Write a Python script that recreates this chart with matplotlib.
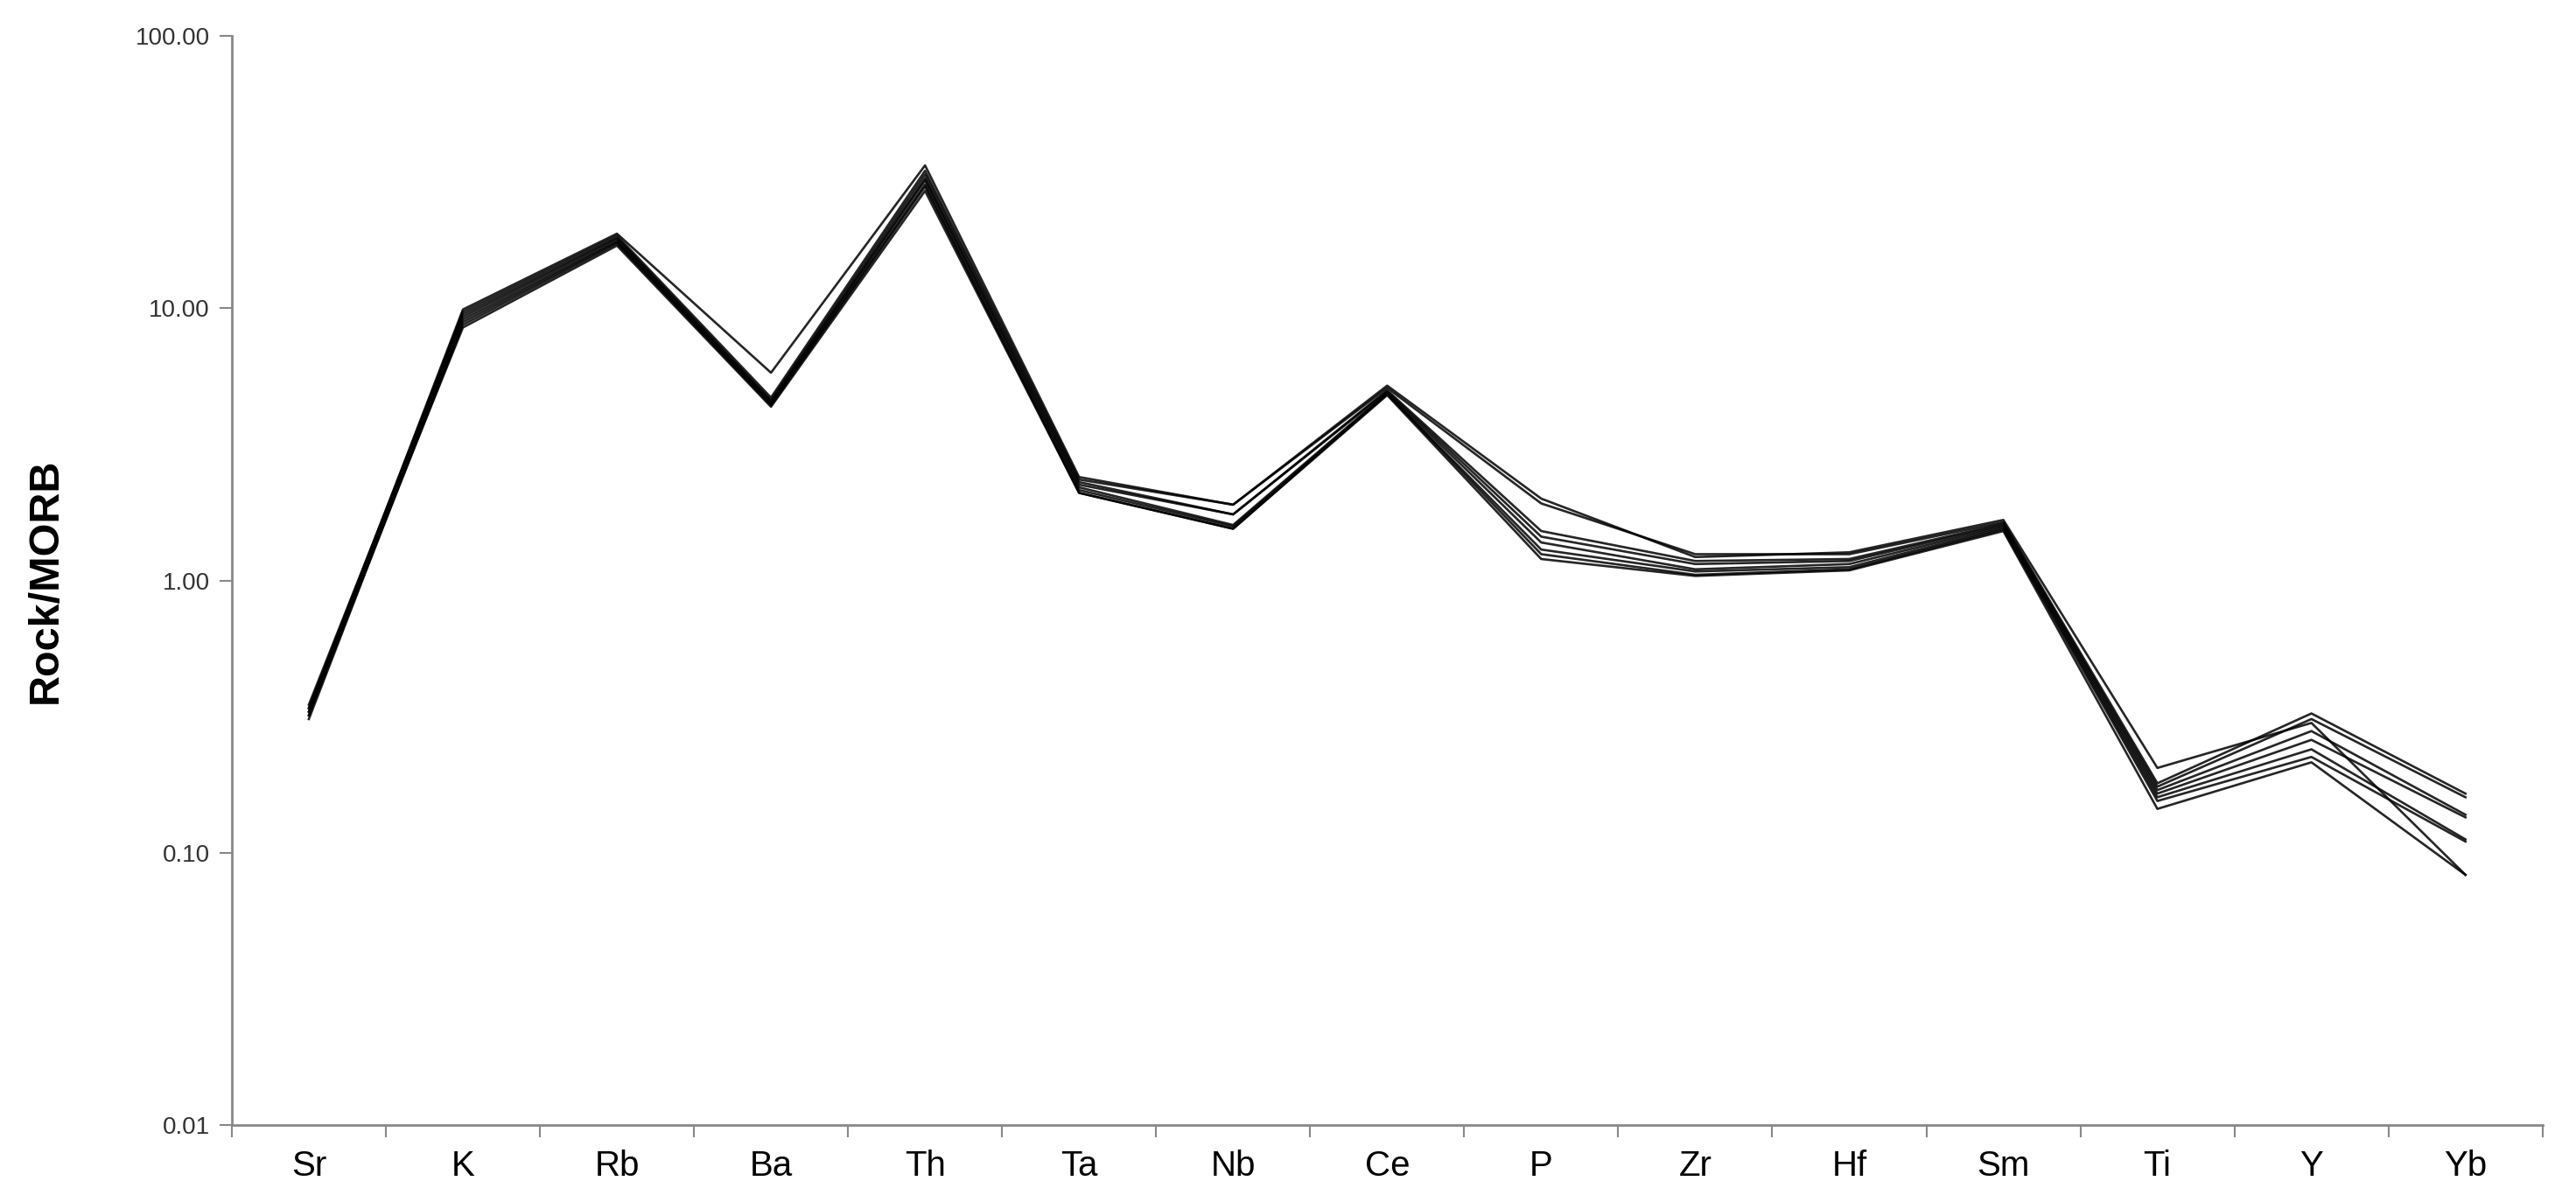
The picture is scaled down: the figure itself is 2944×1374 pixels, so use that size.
import matplotlib
matplotlib.use("Agg")
import matplotlib.pyplot as plt
from matplotlib.ticker import FixedLocator, FuncFormatter

elements = ["Sr", "K", "Rb", "Ba", "Th", "Ta", "Nb", "Ce", "P", "Zr", "Hf", "Sm", "Ti", "Y", "Yb"]

# Rock/MORB values, one list per sample
s1 = [0.33, 9.9, 18.8, 5.8, 33.5, 2.40, 1.90, 5.20, 2.00, 1.22, 1.27, 1.67, 0.205, 0.300, 0.083]
s2 = [0.34, 9.7, 18.5, 4.7, 32.0, 2.35, 1.90, 5.10, 1.92, 1.25, 1.25, 1.64, 0.180, 0.325, 0.165]
s3 = [0.32, 9.5, 18.2, 4.6, 31.0, 2.30, 1.75, 5.00, 1.52, 1.18, 1.20, 1.62, 0.175, 0.310, 0.160]
s4 = [0.35, 9.3, 18.0, 4.55, 30.0, 2.25, 1.75, 4.95, 1.45, 1.15, 1.18, 1.60, 0.170, 0.280, 0.138]
s5 = [0.31, 9.1, 17.7, 4.5, 29.5, 2.20, 1.60, 4.90, 1.38, 1.10, 1.15, 1.58, 0.165, 0.260, 0.135]
s6 = [0.33, 8.9, 17.5, 4.45, 28.5, 2.15, 1.58, 4.85, 1.30, 1.08, 1.12, 1.56, 0.160, 0.240, 0.112]
s7 = [0.32, 8.7, 17.3, 4.4, 28.0, 2.10, 1.55, 4.85, 1.25, 1.05, 1.10, 1.54, 0.155, 0.225, 0.110]
s8 = [0.34, 8.5, 17.0, 4.35, 27.0, 2.10, 1.55, 4.80, 1.20, 1.04, 1.09, 1.52, 0.145, 0.215, 0.083]
samples = [s1, s2, s3, s4, s5, s6, s7, s8]

yticks = [0.01, 0.1, 1, 10, 100]

plt.rcParams['font.family'] = ['Liberation Sans', 'DejaVu Sans']

fig = plt.figure(figsize=(29.44, 13.74), dpi=100)
ax = fig.add_axes([0.090, 0.064, 0.897, 0.906])

x = list(range(len(elements)))
for s in samples:
    ax.plot(x, s, color='black', lw=1.9, alpha=0.85)

ax.set_yscale('log')
ax.set_ylim(0.01, 100)
ax.set_xlim(-0.5, len(elements) - 0.5)

ax.yaxis.set_major_locator(FixedLocator(yticks))
ax.yaxis.set_minor_locator(FixedLocator([]))
ax.yaxis.set_major_formatter(FuncFormatter(lambda v, p: "%.2f" % v))
ax.tick_params(axis='y', which='major', length=10, width=1.5, color='#888888',
               labelsize=20, labelcolor='#333333', pad=8)

ax.set_xticks(x)
ax.set_xticklabels(elements)
ax.set_xticks([i - 0.5 for i in range(len(elements) + 1)], minor=True)
ax.tick_params(axis='x', which='major', length=0, labelsize=29, pad=20)
ax.tick_params(axis='x', which='minor', length=10, width=1.5, color='#888888')

for side in ['top', 'right']:
    ax.spines[side].set_visible(False)
for side in ['left', 'bottom']:
    ax.spines[side].set_color('#888888')
    ax.spines[side].set_linewidth(2)

ax.set_ylabel("Rock/MORB", fontsize=35, fontweight='bold', labelpad=58)

fig.savefig("out.png", dpi=100)
